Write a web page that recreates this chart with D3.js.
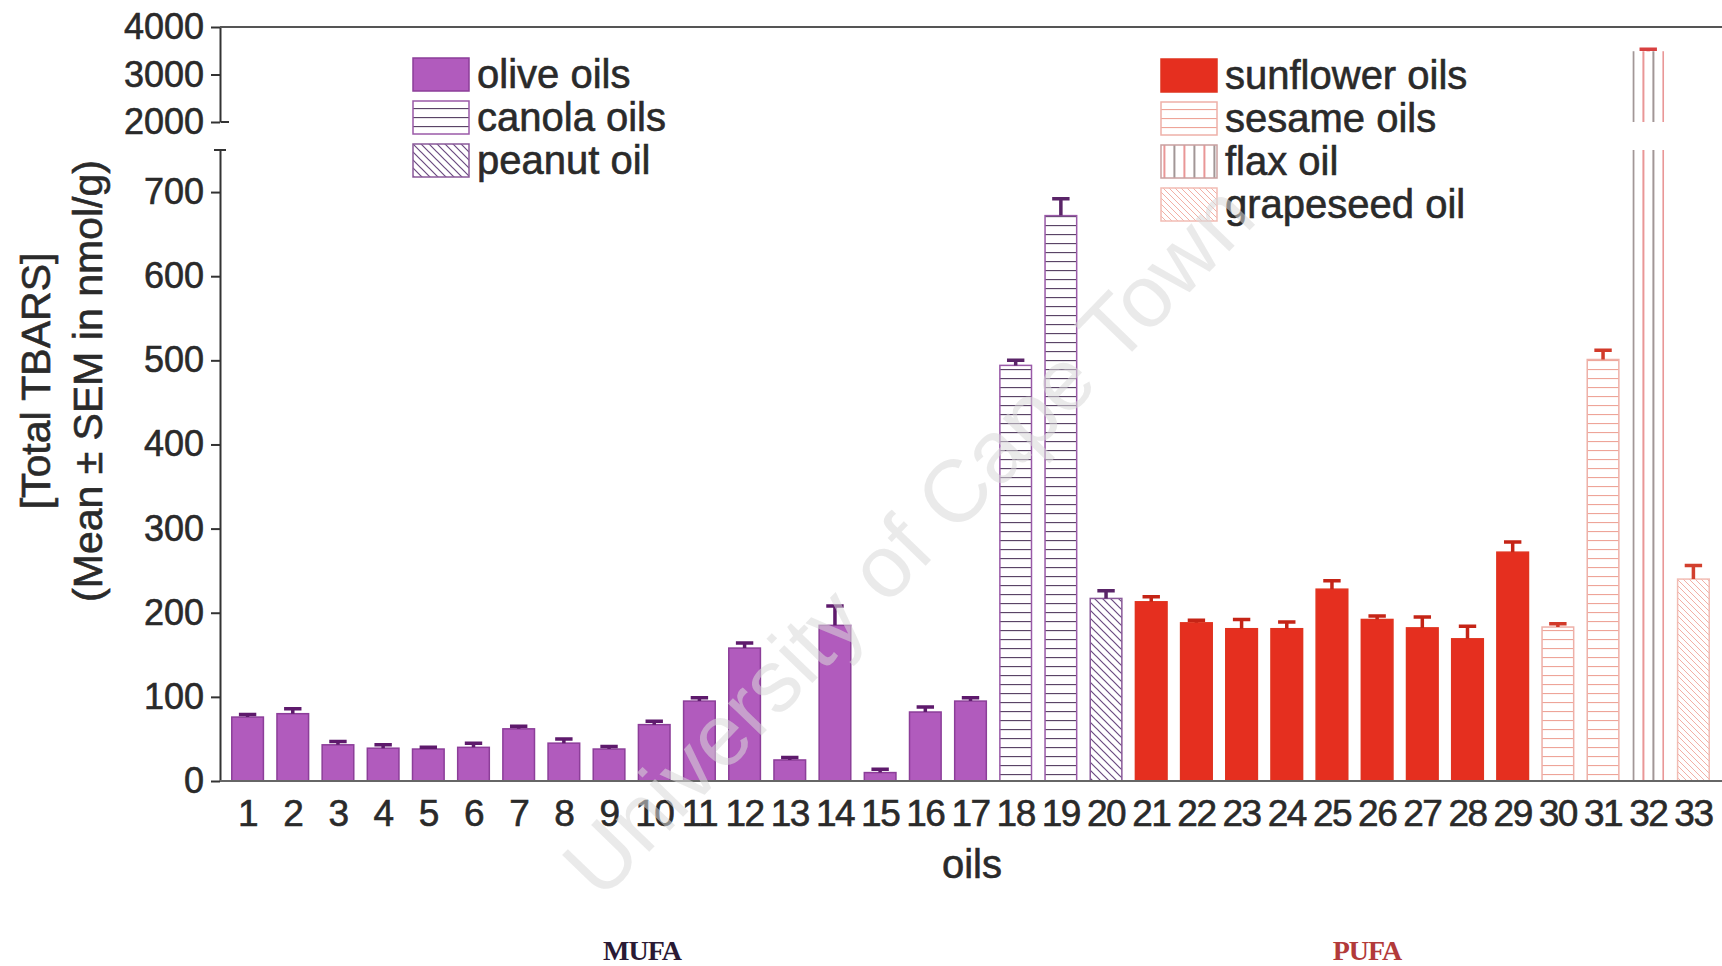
<!DOCTYPE html>
<html>
<head>
<meta charset="utf-8">
<script src="https://cdn.jsdelivr.net/npm/d3@7"></script>
<style>
  body { margin: 0; background: #fff; }
  svg { display: block; font-family: "Liberation Sans", Arial, Helvetica, sans-serif; }
  .ink { stroke: #2a2a2a; stroke-width: 0.6px; }
</style>
</head>
<body>
<div id="chart"></div>
<script>
const W = 1722;
const H = 966;

// data
const oilLabels = ["1","2","3","4","5","6","7","8","9","10","11","12","13","14","15","16","17",
  "18","19","20","21","22","23","24","25","26","27","28","29","30","31","32","33"];
const oilTypes = ["olive","olive","olive","olive","olive","olive","olive","olive","olive","olive",
  "olive","olive","olive","olive","olive","olive","olive","canola","canola","peanut",
  "sunflower","sunflower","sunflower","sunflower","sunflower","sunflower","sunflower","sunflower","sunflower",
  "sesame","sesame","flax","grapeseed"];
const means = [76, 80, 43, 39, 38, 40, 62, 45, 38, 67, 95, 158, 25, 185, 10, 82, 95,
  494, 672, 217, 213, 188, 181, 181, 228, 192, 182, 169, 272, 183, 501, 3490, 240];
const sems = [3, 6, 4, 4, 2, 5, 3, 5, 3, 4, 4, 6, 3, 23, 4, 6, 4,
  6, 20, 9, 6, 3, 11, 8, 10, 4, 13, 15, 12, 4, 11, 40, 16];
const lowTicks = [0, 100, 200, 300, 400, 500, 600, 700];
const highTicks = [2000, 3000, 4000];
const legendMufa = [["olive", "olive oils"], ["canola", "canola oils"], ["peanut", "peanut oil"]];
const legendPufa = [["sunflower", "sunflower oils"], ["sesame", "sesame oils"], ["flax", "flax oil"], ["grapeseed", "grapeseed oil"]];

const style = {
  olive:     { fill: "#b15bbd", stroke: "#8c3e99", err: "#5e1a6c" },
  canola:    { fill: "url(#pat-canola)", stroke: "#9a5aa8", err: "#5a2468" },
  peanut:    { fill: "url(#pat-peanut)", stroke: "#8a5a9a", err: "#5a2468" },
  sunflower: { fill: "#e52f1f", stroke: "#e0331f", err: "#c52416" },
  sesame:    { fill: "url(#pat-sesame)", stroke: "#eeb0a8", err: "#d23a2a" },
  flax:      { fill: "url(#pat-flax)", stroke: "none", err: "#d84040" },
  grapeseed: { fill: "url(#pat-grape)", stroke: "#f2bcb4", err: "#d2402e" },
};

const svg = d3.select("#chart").append("svg").attr("width", W).attr("height", H);
svg.append("rect").attr("width", W).attr("height", H).attr("fill", "#fff");

const x = d3.scaleBand().domain(oilLabels).range([225, 1716]).paddingInner(0.3).paddingOuter(0.15);
const yLow = d3.scaleLinear().domain([0, 750]).range([781, 150]);
const yHigh = d3.scaleLinear().domain([2000, 4000]).range([122, 27]);
const AX = 220;

// patterns
const defs = svg.append("defs");
function linePattern(id, w, h, d, color, sw) {
  const p = defs.append("pattern").attr("id", id).attr("patternUnits", "userSpaceOnUse")
    .attr("width", w).attr("height", h);
  p.append("rect").attr("width", w).attr("height", h).attr("fill", "#fff");
  p.append("path").attr("d", d).attr("stroke", color).attr("stroke-width", sw).attr("fill", "none");
  return p;
}
linePattern("pat-canola", 10, 9, "M0,0.5H10", "#5a4466", 1.3);
linePattern("pat-sesame", 10, 9, "M0,0.5H10", "#eea498", 1.2);
linePattern("pat-peanut", 8, 8, "M0,0L8,8M-2,6L2,10M6,-2L10,2", "#6a4a80", 1.2);
linePattern("pat-grape", 6, 6, "M0,0L6,6M-2,4L2,8M4,-2L8,2", "#f2b0a6", 1);
const flax = defs.append("pattern").attr("id", "pat-flax").attr("patternUnits", "userSpaceOnUse")
  .attr("width", 20).attr("height", 10).attr("x", x("32"));
flax.append("rect").attr("width", 20).attr("height", 10).attr("fill", "#fff");
flax.append("path").attr("d", "M1,0V10").attr("stroke", "#7a6a6a").attr("stroke-width", 1.4);
flax.append("path").attr("d", "M11,0V10").attr("stroke", "#e06a6a").attr("stroke-width", 1.4);

// bars
const bars = oilLabels.map((k, i) => ({ k, type: oilTypes[i], v: means[i], e: sems[i] }));
const lowTop = yLow.domain()[1];
const gBars = svg.append("g");
gBars.selectAll("rect.low").data(bars).join("rect").attr("class", "low")
  .attr("x", d => x(d.k)).attr("width", x.bandwidth())
  .attr("y", d => yLow(Math.min(d.v, lowTop)))
  .attr("height", d => yLow(0) - yLow(Math.min(d.v, lowTop)))
  .attr("fill", d => style[d.type].fill)
  .attr("stroke", d => style[d.type].stroke).attr("stroke-width", 1.5);
gBars.selectAll("rect.high").data(bars.filter(d => d.v > yHigh.domain()[0])).join("rect").attr("class", "high")
  .attr("x", d => x(d.k)).attr("width", x.bandwidth())
  .attr("y", d => yHigh(d.v))
  .attr("height", d => yHigh(yHigh.domain()[0]) - yHigh(d.v))
  .attr("fill", d => style[d.type].fill)
  .attr("stroke", d => style[d.type].stroke).attr("stroke-width", 1.5);

// error bars
const yv = v => (v > yHigh.domain()[0] ? yHigh(v) : yLow(v));
const gErr = svg.append("g");
const capW = x.bandwidth() * 0.55;
gErr.selectAll("path").data(bars).join("path")
  .attr("d", d => {
    const cx = x(d.k) + x.bandwidth() / 2;
    return `M${cx},${yv(d.v)}V${yv(d.v + d.e)}M${cx - capW / 2},${yv(d.v + d.e)}H${cx + capW / 2}`;
  })
  .attr("stroke", d => style[d.type].err).attr("stroke-width", 3.5).attr("fill", "none");

// axes
const axisColor = "#333";
const fmt = d3.format("d");
const gLow = svg.append("g").attr("transform", `translate(${AX},0)`)
  .call(d3.axisLeft(yLow).tickValues(lowTicks).tickFormat(fmt).tickSize(9).tickSizeOuter(0).tickPadding(7));
const gHigh = svg.append("g").attr("transform", `translate(${AX},0)`)
  .call(d3.axisLeft(yHigh).tickValues(highTicks).tickFormat(fmt).tickSize(9).tickSizeOuter(0).tickPadding(7));
[gLow, gHigh].forEach(g => {
  g.selectAll("path.domain").attr("stroke", axisColor).attr("stroke-width", 2);
  g.selectAll(".tick line").attr("stroke", axisColor).attr("stroke-width", 2);
  g.selectAll(".tick text").attr("class", "ink").attr("font-size", 36).attr("fill", "#2a2a2a")
    .attr("font-family", "'Liberation Sans', Arial, sans-serif");
});
// break caps
svg.append("path").attr("d", `M${AX - 6},${yLow(lowTop)}H${AX + 6}M${AX + 1},${yHigh(2000)}H${AX + 9}`)
  .attr("stroke", axisColor).attr("stroke-width", 2);
// top frame line
svg.append("line").attr("x1", AX).attr("x2", W).attr("y1", yHigh(4000)).attr("y2", yHigh(4000))
  .attr("stroke", "#555").attr("stroke-width", 2);
// baseline
svg.append("line").attr("x1", AX).attr("x2", W).attr("y1", yLow(0)).attr("y2", yLow(0))
  .attr("stroke", "#666").attr("stroke-width", 2);

const gX = svg.append("g").attr("transform", `translate(0,${yLow(0)})`)
  .call(d3.axisBottom(x).tickSize(0).tickPadding(19));
gX.select("path.domain").remove();
gX.selectAll(".tick text").attr("class", "ink").attr("font-size", 37).attr("fill", "#2a2a2a").attr("letter-spacing", -1.5)
  .attr("font-family", "'Liberation Sans', Arial, sans-serif");

// axis titles
const yTitle = svg.append("g").attr("font-size", 41).attr("fill", "#2a2a2a").attr("text-anchor", "middle");
yTitle.append("text").attr("class", "ink").attr("transform", "translate(36,381) rotate(-90)").attr("dominant-baseline", "central").text("[Total TBARS]");
yTitle.append("text").attr("class", "ink").attr("transform", "translate(88,381) rotate(-90)").attr("dominant-baseline", "central").text("(Mean ± SEM in nmol/g)");
svg.append("text").attr("class", "ink").attr("x", 972).attr("y", 864).attr("text-anchor", "middle").attr("dominant-baseline", "central")
  .attr("font-size", 40).attr("fill", "#2a2a2a").text("oils");

// group labels
svg.append("text").attr("x", 642).attr("y", 960).attr("text-anchor", "middle")
  .attr("font-family", "'Liberation Serif', 'Times New Roman', serif").attr("font-weight", "bold")
  .attr("font-size", 28).attr("letter-spacing", -1).attr("fill", "#2a1a34").text("MUFA");
svg.append("text").attr("x", 1367).attr("y", 960).attr("text-anchor", "middle")
  .attr("font-family", "'Liberation Serif', 'Times New Roman', serif").attr("font-weight", "bold")
  .attr("font-size", 28).attr("letter-spacing", -1).attr("fill", "#b23a3a").text("PUFA");

// legends
function legend(items, x0, y0) {
  const g = svg.append("g").attr("transform", `translate(${x0},${y0})`);
  const row = g.selectAll("g").data(items).join("g").attr("transform", (d, i) => `translate(0,${i * 43})`);
  row.append("rect").attr("x", 0).attr("y", -16).attr("width", 56).attr("height", 33)
    .attr("fill", d => style[d[0]].fill)
    .attr("stroke", d => style[d[0]].stroke === "none" ? "#c9a0a0" : style[d[0]].stroke).attr("stroke-width", 1.5);
  row.append("text").attr("class", "ink").attr("x", 64).attr("dominant-baseline", "central").attr("font-size", 40)
    .attr("fill", "#2a2a2a").text(d => d[1]);
}
legend(legendMufa, 413, 74);
legend(legendPufa, 1161, 75);

// watermark
svg.append("text").attr("transform", "translate(908,540) rotate(-46)")
  .attr("text-anchor", "middle").attr("dominant-baseline", "central")
  .attr("font-size", 88).attr("fill", "#d8d8d8").attr("fill-opacity", 0.55)
  .text("University of Cape Town");
</script>
</body>
</html>
